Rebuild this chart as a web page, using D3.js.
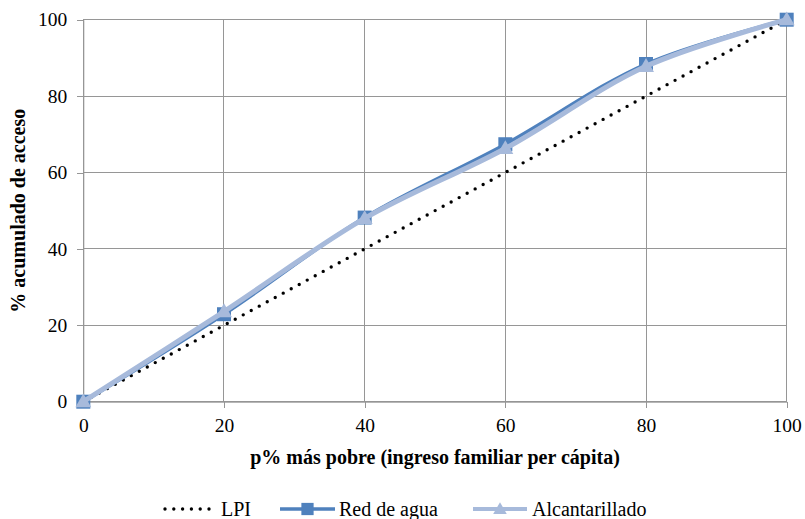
<!DOCTYPE html>
<html>
<head>
<meta charset="utf-8">
<script src="https://cdn.jsdelivr.net/npm/d3@7"></script>
<style>
  body { margin: 0; background: #fff; }
</style>
</head>
<body>
<svg id="chart" width="805" height="519"></svg>
<script>
const percentiles = [0, 20, 40, 60, 80, 100];
const lpi = [0, 20, 40, 60, 80, 100];
const redDeAgua = [0, 22.9, 48.2, 67.4, 88.4, 100];
const alcantarillado = [0, 23.6, 48.0, 66.3, 87.8, 100];
const xTicks = [0, 20, 40, 60, 80, 100];
const yTicks = [0, 20, 40, 60, 80, 100];

(function () {
  const width = 805;
  const height = 519;
  const margin = { top: 19.7, left: 83.3, right: 18.3, bottom: 117.3 };
  const serif = 'Liberation Serif';
  const gridColor = '#969696';
  const blue = '#4F81BD';
  const lightBlue = '#A7BADB';

  const svg = d3.select('#chart');

  const xScale = d3.scaleLinear().domain([0, 100]).range([margin.left, width - margin.right]);
  const yScale = d3.scaleLinear().domain([0, 100]).range([height - margin.bottom, margin.top]);

  // gridlines
  svg.append('g').selectAll('line').data(xTicks).enter()
    .append('line')
    .attr('x1', d => xScale(d)).attr('x2', d => xScale(d))
    .attr('y1', yScale(0)).attr('y2', yScale(100))
    .attr('stroke', gridColor).attr('stroke-width', 1)
    .attr('shape-rendering', 'crispEdges');

  svg.append('g').selectAll('line').data(yTicks).enter()
    .append('line')
    .attr('x1', xScale(0)).attr('x2', xScale(100))
    .attr('y1', d => yScale(d)).attr('y2', d => yScale(d))
    .attr('stroke', gridColor).attr('stroke-width', 1)
    .attr('shape-rendering', 'crispEdges');

  // axes
  const xAxis = d3.axisBottom(xScale).tickValues(xTicks).tickSize(6).tickPadding(10).tickSizeOuter(0);
  const yAxis = d3.axisLeft(yScale).tickValues(yTicks).tickSize(6).tickPadding(10).tickSizeOuter(0);

  const gx = svg.append('g')
    .attr('transform', `translate(0, ${yScale(0)})`)
    .call(xAxis);
  const gy = svg.append('g')
    .attr('transform', `translate(${xScale(0)}, 0)`)
    .call(yAxis);

  [gx, gy].forEach(g => {
    g.attr('font-family', null).attr('font-size', null);
    g.select('.domain').attr('stroke', gridColor);
    g.selectAll('.tick line').attr('stroke', gridColor).attr('shape-rendering', 'crispEdges');
    g.selectAll('.tick text')
      .attr('fill', '#000')
      .attr('font-family', serif)
      .attr('font-size', 19.5);
  });

  // axis titles
  svg.append('text')
    .attr('x', (xScale(0) + xScale(100)) / 2)
    .attr('y', 464)
    .attr('text-anchor', 'middle')
    .attr('font-family', serif)
    .attr('font-size', 20)
    .attr('font-weight', 'bold')
    .text('p% más pobre (ingreso familiar per cápita)');

  svg.append('text')
    .attr('transform', `translate(25, ${(yScale(0) + yScale(100)) / 2}) rotate(-90)`)
    .attr('text-anchor', 'middle')
    .attr('font-family', serif)
    .attr('font-size', 20)
    .attr('font-weight', 'bold')
    .text('% acumulado de acceso');

  const rows = (vals) => percentiles.map((p, i) => ({ x: p, y: vals[i] }));

  const straight = d3.line().x(d => xScale(d.x)).y(d => yScale(d.y));
  const smooth = d3.line().x(d => xScale(d.x)).y(d => yScale(d.y)).curve(d3.curveCatmullRom);

  // LPI
  svg.append('path')
    .datum(rows(lpi))
    .attr('d', straight)
    .attr('fill', 'none')
    .attr('stroke', '#000')
    .attr('stroke-width', 3.4)
    .attr('stroke-linecap', 'round')
    .attr('stroke-dasharray', '0 9.1');

  // Red de agua
  svg.append('path')
    .datum(rows(redDeAgua))
    .attr('d', smooth)
    .attr('fill', 'none')
    .attr('stroke', blue)
    .attr('stroke-width', 3.5);

  svg.append('g').selectAll('path').data(rows(redDeAgua)).enter()
    .append('path')
    .attr('transform', d => `translate(${xScale(d.x)}, ${yScale(d.y)})`)
    .attr('d', d3.symbol(d3.symbolSquare, 196))
    .attr('fill', blue);

  // Alcantarillado
  svg.append('path')
    .datum(rows(alcantarillado))
    .attr('d', smooth)
    .attr('fill', 'none')
    .attr('stroke', lightBlue)
    .attr('stroke-width', 5);

  svg.append('g').selectAll('path').data(rows(alcantarillado)).enter()
    .append('path')
    .attr('transform', d => `translate(${xScale(d.x)}, ${yScale(d.y) + 1})`)
    .attr('d', d3.symbol(d3.symbolTriangle, 110))
    .attr('fill', lightBlue);

  // legend
  const ly = 509;
  const legend = svg.append('g');

  legend.append('line')
    .attr('x1', 165).attr('x2', 211).attr('y1', ly).attr('y2', ly)
    .attr('stroke', '#000').attr('stroke-width', 3.4)
    .attr('stroke-linecap', 'round').attr('stroke-dasharray', '0 8.8');
  legend.append('text').attr('x', 221).attr('y', ly + 6.5)
    .attr('font-family', serif).attr('font-size', 20).text('LPI');

  legend.append('line')
    .attr('x1', 280).attr('x2', 335).attr('y1', ly).attr('y2', ly)
    .attr('stroke', blue).attr('stroke-width', 3.5);
  legend.append('path')
    .attr('transform', `translate(307.5, ${ly})`)
    .attr('d', d3.symbol(d3.symbolSquare, 150))
    .attr('fill', blue);
  legend.append('text').attr('x', 339).attr('y', ly + 6.5)
    .attr('font-family', serif).attr('font-size', 20).text('Red de agua');

  legend.append('line')
    .attr('x1', 473).attr('x2', 527).attr('y1', ly).attr('y2', ly)
    .attr('stroke', lightBlue).attr('stroke-width', 4);
  legend.append('path')
    .attr('transform', `translate(500, ${ly + 1})`)
    .attr('d', d3.symbol(d3.symbolTriangle, 80))
    .attr('fill', lightBlue);
  legend.append('text').attr('x', 532).attr('y', ly + 6.5)
    .attr('font-family', serif).attr('font-size', 20).text('Alcantarillado');
})();
</script>
</body>
</html>
